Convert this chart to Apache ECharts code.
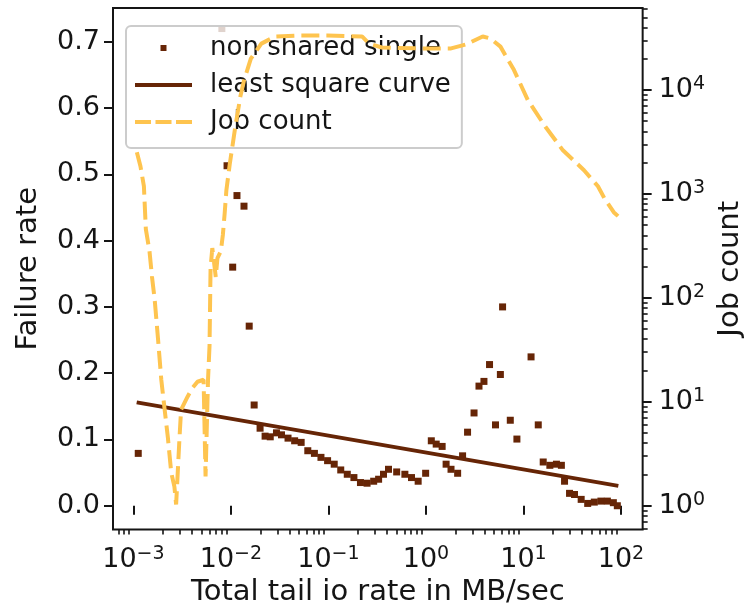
<!DOCTYPE html>
<html>
<head>
<meta charset="utf-8">
<script src="https://cdn.jsdelivr.net/npm/echarts@6.0.0/dist/echarts.min.js"></script>
<style>
  html, body { margin: 0; padding: 0; background: #ffffff; }
  #chart { width: 753px; height: 612px; }
</style>
</head>
<body>
<div id="chart"></div>
<script>
// ---- data ----
const scatterX = [0.00112, 0.00807, 0.00912, 0.01042, 0.01153, 0.01361, 0.01539, 0.0173, 0.0199, 0.0224,
  0.0253, 0.0293, 0.033, 0.0385, 0.045, 0.0525, 0.0614, 0.0718, 0.0838, 0.098,
  0.1146, 0.1337, 0.156, 0.1825, 0.213, 0.249, 0.291, 0.327, 0.367, 0.413,
  0.501, 0.608, 0.711, 0.832, 0.993, 1.135, 1.274, 1.466, 1.61, 1.808,
  2.114, 2.376, 2.672, 3.114, 3.50, 3.935, 4.49, 5.17, 5.80, 6.11,
  7.33, 8.57, 11.97, 14.19, 15.95, 18.66, 21.8, 24.5, 26.4, 29.7,
  33.4, 39.1, 45.6, 53.3, 62.3, 72.6, 83.6, 91.8];
const scatterY = [0.079, 0.72, 0.513, 0.36, 0.468, 0.452, 0.271, 0.152, 0.117, 0.105,
  0.104, 0.11, 0.107, 0.102, 0.098, 0.0956, 0.083, 0.079, 0.073, 0.068,
  0.0627, 0.054, 0.0475, 0.0425, 0.035, 0.034, 0.037, 0.040, 0.0475, 0.055,
  0.051, 0.0475, 0.0425, 0.037, 0.049, 0.098, 0.093, 0.0895, 0.0627, 0.055,
  0.049, 0.0753, 0.111, 0.140, 0.1805, 0.1876, 0.213, 0.122, 0.198, 0.30,
  0.129, 0.1006, 0.2246, 0.122, 0.066, 0.061, 0.0627, 0.061, 0.037, 0.0187,
  0.017, 0.0096, 0.0035, 0.0055, 0.007, 0.007, 0.0046, 0.0];

const fitX = [0.00108, 94];
const fitY = [0.156, 0.030];

const jobX = [0.001084, 0.00118, 0.00128, 0.00134, 0.00146, 0.00155, 0.00165, 0.00179, 0.00193, 0.00209,
  0.00225, 0.00244, 0.00263, 0.00274, 0.00296, 0.00308, 0.00359, 0.00403, 0.00454, 0.00524,
  0.00549, 0.00582, 0.00603, 0.00618, 0.00644, 0.00699, 0.00727, 0.00788, 0.00826, 0.00861,
  0.00898, 0.00972, 0.01106, 0.0125, 0.01361, 0.0160, 0.0205, 0.0284, 0.0486, 0.098,
  0.221, 0.261, 0.353, 0.80, 1.81, 2.57, 3.82, 4.60, 5.81, 7.98,
  11.1, 16.8, 25.4, 41.8, 58.1, 68.5, 84.3, 93.3];
const jobY = [2510, 1845, 1186, 458, 282, 159, 97, 39.5, 16.3, 8.4,
  4.62, 2.09, 1.53, 1.03, 4.33, 8.4, 11.2, 13.6, 15.6, 16.3,
  1.91, 16.3, 34.5, 194, 301, 159, 241, 282, 402, 638,
  1086, 1930, 4365, 8670, 12330, 20000, 27900, 32700, 33400, 33400,
  32700, 27900, 25600, 25100, 25100, 27400, 32700, 31200, 26100, 15600,
  7980, 4420, 2625, 1690, 1185, 889, 667, 611];

// tick labels
const xMajorTicks = [0.001, 0.01, 0.1, 1, 10, 100];
const yLeftTicks = [0.0, 0.1, 0.2, 0.3, 0.4, 0.5, 0.6, 0.7];
const yRightTicks = [1, 10, 100, 1000, 10000];

// axis ranges
const X_MIN = 6.17e-4, X_MAX = 167;
const YL_MIN = -0.036, YL_MAX = 0.751;
const YR_MIN = 0.59, YR_MAX = 61400;

function minorTicks(lo, hi) {
  const out = [];
  for (let e = -5; e <= 6; e++) {
    for (let m = 2; m <= 9; m++) {
      const v = m * Math.pow(10, e);
      if (v > lo && v < hi) out.push(v);
    }
  }
  return out;
}
const xMinorTicks = minorTicks(X_MIN, X_MAX);
const yRightMinorTicks = minorTicks(YR_MIN, YR_MAX);

const FONT = 'DejaVu Sans';
const TXT = '#151515';
const BROWN = '#662506';
const ORANGE = '#fec44f';

function pow10Label(v) {
  const e = Math.round(Math.log10(v));
  const s = e < 0 ? '\u2212' + Math.abs(e) : String(e);
  return '{b|10}{s|' + s + '}';
}
const richPow = {
  b: { fontSize: 27, fontFamily: FONT, color: TXT, lineHeight: 30 },
  s: { fontSize: 19, fontFamily: FONT, color: TXT, lineHeight: 14, verticalAlign: 'top' }
};

// legend icons (keep a 57 x 6 box so each icon is drawn at 1:1 scale)
const ICON_SCATTER = 'path://M0,0M57,6M25.5,0L31.5,0L31.5,6L25.5,6Z';
const ICON_SOLID = 'path://M0,0M57,6M0,1L57,1L57,5L0,5Z';
const ICON_DASH = 'path://M0,0M57,6M0,1L16,1L16,5L0,5Z M20.5,1L36.5,1L36.5,5L20.5,5Z M41,1L57,1L57,5L41,5Z';

const chart = echarts.init(document.getElementById('chart'), null, { renderer: 'canvas' });

const option = {
  backgroundColor: '#ffffff',
  animation: false,
  grid: {
    left: 113, top: 8, width: 535, height: 522,
    show: true, borderColor: TXT, borderWidth: 2, backgroundColor: 'transparent'
  },
  legend: {
    left: 126, top: 26, orient: 'vertical',
    itemWidth: 57, itemHeight: 6, itemGap: 7,
    padding: [7, 11, 11, 9],
    backgroundColor: 'rgba(255,255,255,0.8)',
    borderColor: '#cccccc', borderWidth: 2, borderRadius: 5,
    symbolKeepAspect: false,
    textStyle: { fontSize: 26, fontFamily: FONT, color: TXT, lineHeight: 30, padding: [0, 0, 0, 13] },
    data: [
      { name: 'non shared single', icon: ICON_SCATTER, itemStyle: { color: BROWN } },
      { name: 'least square curve', icon: ICON_SOLID, itemStyle: { color: BROWN } },
      { name: 'Job count', icon: ICON_DASH, itemStyle: { color: ORANGE } }
    ]
  },
  xAxis: [
    {
      type: 'log', logBase: 10, min: X_MIN, max: X_MAX, position: 'bottom',
      axisLine: { show: false },
      axisTick: { show: true, length: 9, customValues: xMajorTicks, lineStyle: { color: TXT, width: 2 } },
      axisLabel: { customValues: xMajorTicks, formatter: pow10Label, rich: richPow, margin: 15 },
      splitLine: { show: false },
      name: 'Total tail io rate in MB/sec', nameLocation: 'middle', nameGap: 46,
      nameTextStyle: { fontSize: 29, fontFamily: FONT, color: TXT }
    },
    {
      type: 'log', logBase: 10, min: X_MIN, max: X_MAX, position: 'bottom',
      axisLine: { show: false },
      axisTick: { show: true, length: 5, customValues: xMinorTicks, lineStyle: { color: TXT, width: 1.6 } },
      axisLabel: { show: false },
      splitLine: { show: false }
    }
  ],
  yAxis: [
    {
      type: 'value', min: YL_MIN, max: YL_MAX, position: 'left',
      axisLine: { show: false },
      axisTick: { show: true, length: 9, customValues: yLeftTicks, lineStyle: { color: TXT, width: 2 } },
      axisLabel: { customValues: yLeftTicks, formatter: v => v.toFixed(1), margin: 13,
        fontSize: 27, fontFamily: FONT, color: TXT },
      splitLine: { show: false },
      name: 'Failure rate', nameLocation: 'middle', nameGap: 70, nameRotate: 90,
      nameTextStyle: { fontSize: 29, fontFamily: FONT, color: TXT }
    },
    {
      type: 'log', logBase: 10, min: YR_MIN, max: YR_MAX, position: 'right',
      axisLine: { show: false },
      axisTick: { show: true, length: 9, customValues: yRightTicks, lineStyle: { color: TXT, width: 2 } },
      axisLabel: { customValues: yRightTicks, formatter: pow10Label, rich: richPow, margin: 16 },
      splitLine: { show: false },
      name: 'Job count', nameLocation: 'middle', nameGap: 73, nameRotate: 90,
      nameTextStyle: { fontSize: 29, fontFamily: FONT, color: TXT }
    },
    {
      type: 'log', logBase: 10, min: YR_MIN, max: YR_MAX, position: 'right', offset: 0,
      axisLine: { show: false },
      axisTick: { show: true, length: 5, customValues: yRightMinorTicks, lineStyle: { color: TXT, width: 1.6 } },
      axisLabel: { show: false },
      splitLine: { show: false }
    }
  ],
  series: [
    {
      name: 'non shared single', type: 'scatter', xAxisIndex: 0, yAxisIndex: 0,
      symbol: 'rect', symbolSize: 7,
      itemStyle: { color: BROWN, opacity: 1 },
      data: scatterX.map((x, i) => [x, scatterY[i]]),
      z: 2
    },
    {
      name: 'least square curve', type: 'line', xAxisIndex: 0, yAxisIndex: 0,
      symbol: 'none', showSymbol: false,
      lineStyle: { color: BROWN, width: 4 },
      itemStyle: { color: BROWN },
      data: fitX.map((x, i) => [x, fitY[i]]),
      z: 3
    },
    {
      name: 'Job count', type: 'line', xAxisIndex: 0, yAxisIndex: 1,
      symbol: 'none', showSymbol: false,
      lineStyle: { color: ORANGE, width: 4, type: [18, 7] },
      itemStyle: { color: ORANGE },
      data: jobX.map((x, i) => [x, jobY[i]]),
      z: 4
    }
  ]
};
chart.setOption(option);
</script>
</body>
</html>
